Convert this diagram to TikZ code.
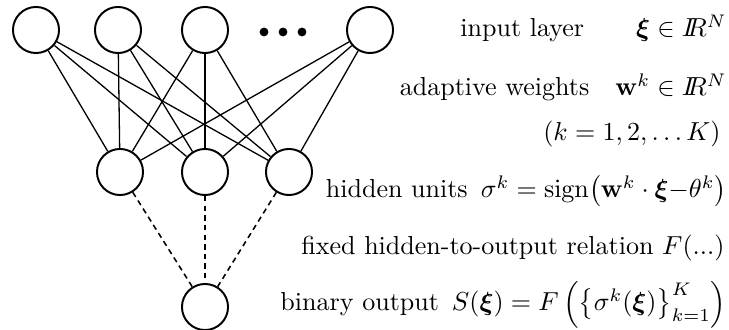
\documentclass[tikz,border=0pt]{standalone}
\usepackage{amsmath,amssymb,bm}
\begin{document}
\begin{tikzpicture}[x=0.3843pt,y=-0.3843pt,
  unit/.style={circle,draw,line width=0.75pt,minimum size=17.7pt,inner sep=0pt},
  link/.style={line width=0.5pt},
  dlink/.style={line width=0.6pt,dash pattern=on 2.1pt off 1.6pt},
  dotnode/.style={circle,fill,inner sep=0pt,minimum size=3.4pt},
  lbl/.style={anchor=base east,inner sep=0pt}]
\useasboundingbox (0,0) rectangle (729,330);
% input layer
\node[unit] (i1) at (36,30) {};
\node[unit] (i2) at (118,30) {};
\node[unit] (i3) at (205,30) {};
\node[unit] (i4) at (370,30) {};
\node[dotnode] (d1) at (264,32) {};
\node[dotnode] (d2) at (283,32) {};
\node[dotnode] (d3) at (302,32) {};
% hidden layer
\node[unit] (h1) at (120,172) {};
\node[unit] (h2) at (205,172) {};
\node[unit] (h3) at (289,172) {};
% output
\node[unit] (o) at (205,307) {};
% weights
\foreach \i in {i1,i2,i3,i4}{
  \foreach \h in {h1,h2,h3}{
    \draw[link] (\i) -- (\h);
  }
}
\foreach \h in {h1,h2,h3}{
  \draw[dlink] (\h) -- (o);
}
% labels
\node[lbl] (t1) at (727,37) {input layer\qquad$\boldsymbol{\xi}\in I\!\!R^N$};
\node[lbl] (t2) at (727,96) {adaptive weights\quad$\mathbf{w}^k\in I\!\!R^N$};
\node[lbl] (t3) at (721,141) {$(k=1,2,\dots K)$};
\node[lbl] (t4) at (727,198) {hidden units\enspace$\sigma^k=\mathrm{sign}\bigl(\mathbf{w}^k\cdot\boldsymbol{\xi}{-}\theta^k\bigr)$};
\node[lbl] (t5) at (725,255) {fixed hidden-to-output relation $F(...)$};
\node[lbl] (t6) at (727,311) {binary output\enspace$S(\boldsymbol{\xi})=F\,\Bigl(\bigl\{\sigma^k(\boldsymbol{\xi})\bigr\}_{k=1}^K\Bigr)$};
\end{tikzpicture}
\end{document}
